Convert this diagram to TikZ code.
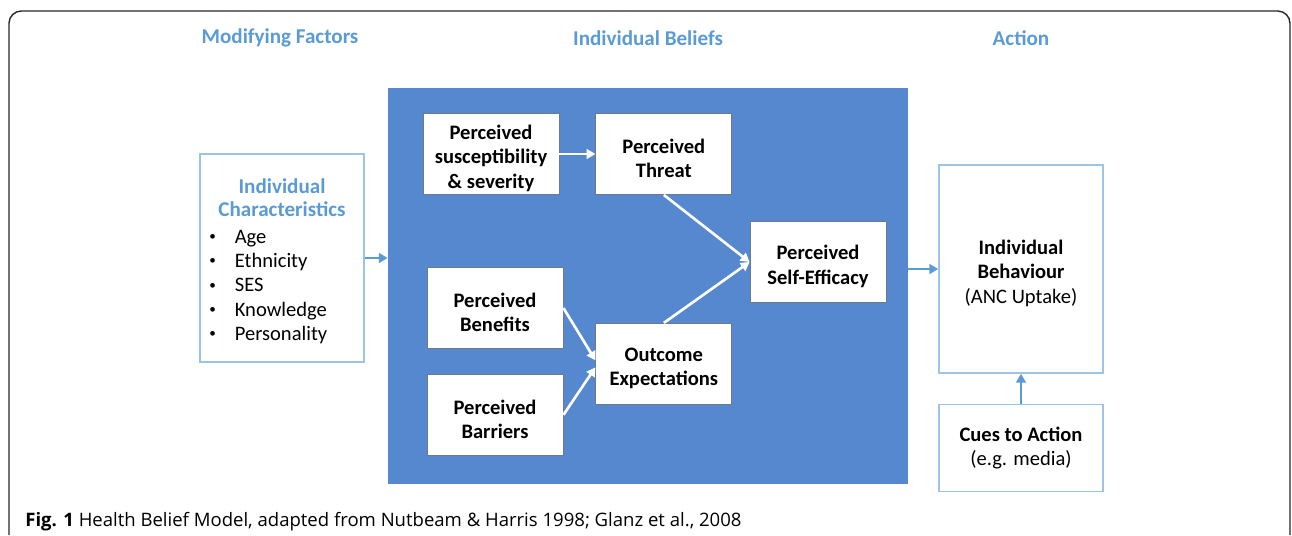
\documentclass[tikz,border=0pt]{standalone}
\usepackage{fontspec}
\setmainfont{Carlito}
\newfontfamily\captionfont{Open Sans}
\usetikzlibrary{positioning,arrows.meta}
\definecolor{headblue}{RGB}{91,155,213}
\definecolor{panelblue}{RGB}{86,136,208}
\definecolor{boxline}{RGB}{157,195,230}
\definecolor{innerline}{RGB}{110,120,135}
\tikzset{
	header/.style={text=headblue, font=\fontsize{12}{13.2}\selectfont\bfseries, align=center},
	belief/.style={draw=innerline, fill=white, line width=0.5pt, minimum width=2.72cm, minimum height=1.62cm, inner sep=0pt, align=center, font=\fontsize{11.7}{13.9}\selectfont\bfseries},
	sidebox/.style={draw=boxline, fill=white, line width=0.9pt, minimum width=3.28cm, inner sep=0pt, align=center, font=\fontsize{11.7}{13.9}\selectfont},
	panel/.style={fill=panelblue, minimum width=10.4cm, minimum height=7.92cm, inner sep=0pt},
	whitearrow/.style={draw=white, line width=1.5pt, -{Triangle[length=5pt,width=5.5pt]}},
	bluearrow/.style={draw=headblue, line width=1.4pt, -{Triangle[length=5pt,width=5.5pt]}}
}
\newcommand{\Item}[1]{\makebox[14.5pt][l]{\raisebox{0.3ex}{\fontsize{7.5}{7.5}\selectfont\textbullet}}#1}
\newcommand{\Lift}{\rule{0pt}{13pt}}

\begin{document}
\begin{tikzpicture}[x=0.02cm, y=-0.02cm]
		\useasboundingbox (0,0) rectangle (1292,535);
		% Frame
		\draw[black!85, line width=0.8pt, rounded corners=7pt] (9,535) -- (9,11) -- (1290,11) -- (1290,535);

		% Column headers
		\node[header] (hmod) at (280,38) {Modifying Factors};
		\node[header] (hbel) at (648,38) {Individual Beliefs};
		\node[header] (hact) at (1021,38) {Action};

		% Define nodes
		\node[panel] (beliefs) at (648,286) {};
		\node[belief] (susc) at (491,154) {\Lift Perceived\\susceptibility\\\& severity};
		\node[belief, right=0.72cm of susc] (threat) {\Lift Perceived\\Threat};
		\node[belief] (ben) at (495,308) {\Lift Perceived\\Benefits};
		\node[belief, below=0.5cm of ben] (bar) {\Lift Perceived\\Barriers};
		\node[belief, below=2.56cm of threat] (outc) {\Lift Outcome\\Expectations};
		\node[belief] (eff) at (818,262) {\Lift Perceived\\Self-Efficacy};

		\node[sidebox, minimum height=4.16cm] (charbox) at (282,258) {};
		\node[header] (chartitle) at (282,198) {Individual\\Characteristics};
		\node[anchor=west, inner sep=0pt, align=left, font=\fontsize{11.7}{13.9}\selectfont] (charlist) at (209,287)
			{\Item{Age}\\\Item{Ethnicity}\\\Item{SES}\\\Item{Knowledge}\\\Item{Personality}};

		\node[sidebox, minimum height=4.16cm] (beh) at (1021,269) {\Lift\textbf{Individual}\\\textbf{Behaviour}\\(ANC Uptake)};
		\node[sidebox, minimum height=1.74cm, below=0.6cm of beh] (cues) {\textbf{Cues to Action}\\(e.g. media)};

		% Connect the nodes
		\draw[whitearrow] (susc.east) -- (threat.west);
		\draw[whitearrow] (threat.south) -- (eff.west);
		\draw[whitearrow] (outc.north) -- (eff.west);
		\draw[whitearrow] (ben.east) -- ([yshift=2pt]outc.west);
		\draw[whitearrow] (bar.east) -- ([yshift=-2pt]outc.west);

		\draw[bluearrow] (charbox.east) -- (charbox.east -| beliefs.west);
		\draw[bluearrow] (beliefs.east |- beh.west) -- (beh.west);
		\draw[bluearrow] (cues.north) -- (beh.south);

		% Caption
		\node[anchor=base west, inner sep=0pt, font=\captionfont\fontsize{10.55}{12}\selectfont] (caption) at (25,526)
			{\textbf{Fig. 1} Health Belief Model, adapted from Nutbeam \& Harris 1998; Glanz et al., 2008};
	\end{tikzpicture}
\end{document}
